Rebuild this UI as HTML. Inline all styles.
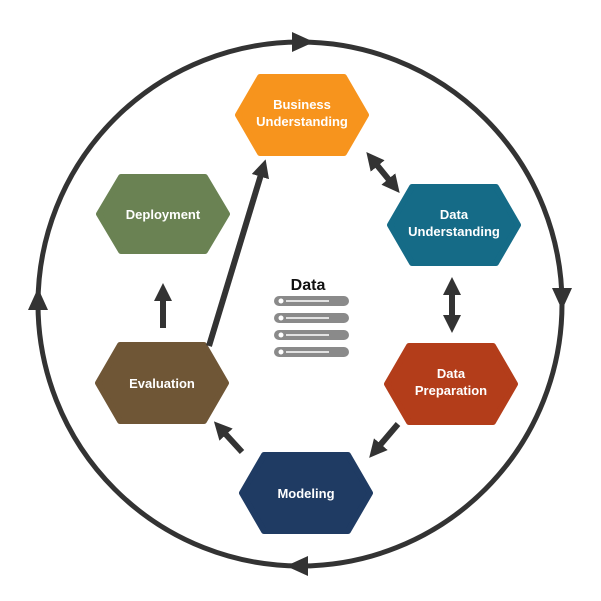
<!DOCTYPE html>
<html><head><style>body{margin:0;background:#fff}svg{display:block}text{font-family:"Liberation Sans",sans-serif;font-weight:bold;fill:#fff;text-anchor:middle}</style></head>
<body>
<svg width="601" height="601" viewBox="0 0 601 601">
<defs>
<marker id="ah" viewBox="0 0 10 10" refX="5" refY="5" markerWidth="3" markerHeight="3" orient="auto-start-reverse"><path d="M0,0L10,5L0,10z" fill="#333"/></marker>
</defs>
<circle cx="300" cy="304" r="262" fill="none" stroke="#333" stroke-width="5"/>
<path d="M292,32L314,42L292,52z" fill="#333"/>
<path d="M552,288L562,310L572,288z" fill="#333"/>
<path d="M308,556L286,566L308,576z" fill="#333"/>
<path d="M28,310L38,288L48,310z" fill="#333"/>
<g stroke-width="6" stroke-linejoin="round">
<path d="M238,115L260,77H344L366,115L344,153H260z" fill="#f7941d" stroke="#f7941d"/>
<path d="M390,225L412,187H496L518,225L496,263H412z" fill="#156b87" stroke="#156b87"/>
<path d="M387,384L409,346H493L515,384L493,422H409z" fill="#b33d1a" stroke="#b33d1a"/>
<path d="M242,493L264,455H348L370,493L348,531H264z" fill="#1f3b63" stroke="#1f3b63"/>
<path d="M98,383L120,345H204L226,383L204,421H120z" fill="#6f5636" stroke="#6f5636"/>
<path d="M99,214L121,177H205L227,214L205,251H121z" fill="#6a8253" stroke="#6a8253"/>
</g>
<text x="302" y="109" font-size="13">Business</text><text x="302" y="126" font-size="13">Understanding</text>
<text x="454" y="219" font-size="13">Data</text><text x="454" y="236" font-size="13">Understanding</text>
<text x="451" y="378" font-size="13">Data</text><text x="451" y="395" font-size="13">Preparation</text>
<text x="306" y="498" font-size="13">Modeling</text>
<text x="162" y="388" font-size="13">Evaluation</text>
<text x="163" y="219" font-size="13">Deployment</text>
<g stroke="#333" stroke-width="6" fill="none">
<line x1="372" y1="159" x2="394" y2="186" marker-start="url(#ah)" marker-end="url(#ah)"/>
<line x1="452" y1="286" x2="452" y2="324" marker-start="url(#ah)" marker-end="url(#ah)"/>
<line x1="398" y1="424" x2="375" y2="451" marker-end="url(#ah)"/>
<line x1="242" y1="452" x2="220" y2="428" marker-end="url(#ah)"/>
<line x1="163" y1="328" x2="163" y2="292" marker-end="url(#ah)"/>
<line x1="209" y1="346" x2="263" y2="168" marker-end="url(#ah)"/>
</g>
<text x="308" y="290" font-size="16" style="fill:#111">Data</text>
<g>
<rect x="274" y="296" width="75" height="10" rx="5" fill="#8a8a8a"/>
<rect x="274" y="313" width="75" height="10" rx="5" fill="#8a8a8a"/>
<rect x="274" y="330" width="75" height="10" rx="5" fill="#8a8a8a"/>
<rect x="274" y="347" width="75" height="10" rx="5" fill="#8a8a8a"/>
<g fill="#fff"><circle cx="281" cy="301" r="2.5"/><circle cx="281" cy="318" r="2.5"/><circle cx="281" cy="335" r="2.5"/><circle cx="281" cy="352" r="2.5"/></g>
<g stroke="#fff" stroke-width="1.5"><line x1="286" y1="301" x2="329" y2="301"/><line x1="286" y1="318" x2="329" y2="318"/><line x1="286" y1="335" x2="329" y2="335"/><line x1="286" y1="352" x2="329" y2="352"/></g>
</g>
</svg>
</body></html>
